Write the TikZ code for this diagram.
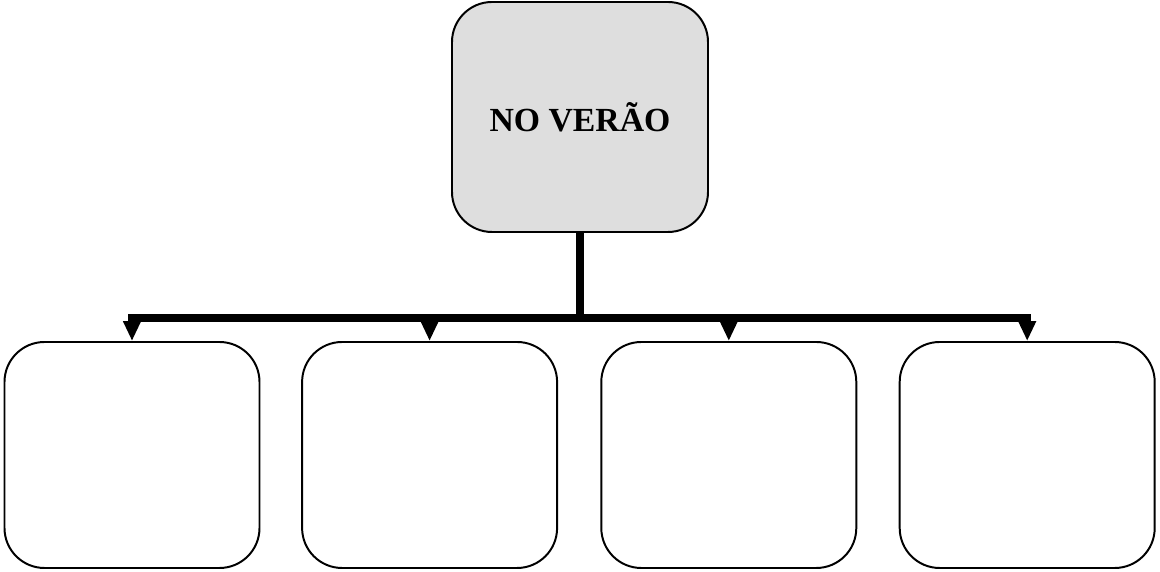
\documentclass[tikz,border=0pt]{standalone}
\usepackage{fontspec}
\setmainfont{Liberation Serif}
\usepackage{tikz}
\usetikzlibrary{arrows.meta}

\definecolor{headgray}{HTML}{DEDEDE}

\tikzset{
	headbox/.style={rectangle, rounded corners=1cm, draw, line width=1.4pt, fill=headgray,
		minimum width=6.4cm, minimum height=5.75cm, font=\fontsize{24}{28}\selectfont\bfseries},
	itembox/.style={rectangle, rounded corners=1cm, draw, line width=1.4pt,
		minimum width=6.375cm, minimum height=5.65cm},
	bus/.style={line width=5pt},
	busarrow/.style={line width=5pt, -{Triangle[length=0.5cm,width=0.42cm]}}
}

\begin{document}
\begin{tikzpicture}
		
		\useasboundingbox (0,0) rectangle (29,14.3);
		
		% Top node
		
		\node[headbox] (summer) at (14.5,11.375) {NO VERÃO};
		
		% Bottom nodes
		
		\node[itembox] (b1) at (3.3,2.925) {};
		\node[itembox] (b2) at (10.74,2.925) {};
		\node[itembox] (b3) at (18.22,2.925) {};
		\node[itembox] (b4) at (25.68,2.925) {};
		
		% EDGE
		
		\coordinate (hub) at (14.5,6.35);
		
		\draw[bus] (summer.south) -- (hub);
		\draw[busarrow] (hub) -| (b1.north);
		\draw[busarrow] (hub) -| (b2.north);
		\draw[busarrow] (hub) -| (b3.north);
		\draw[busarrow] (hub) -| (b4.north);
		
\end{tikzpicture}
\end{document}
